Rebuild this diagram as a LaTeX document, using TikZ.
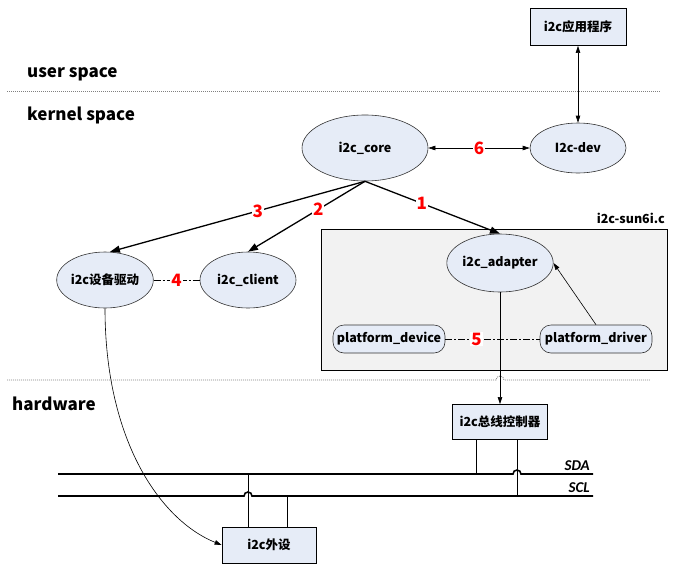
\documentclass[tikz,border=0pt]{standalone}
\usepackage{fontspec}
\setmainfont{Noto Sans CJK SC}
\newfontfamily\latinit{Carlito}
\usepackage{tikz}
\usetikzlibrary{shapes.geometric, arrows.meta}

\definecolor{nodefill}{RGB}{230,236,247}
\definecolor{boxfill}{RGB}{242,242,242}

\begin{document}
\begin{tikzpicture}[x=1pt, y=-1pt,
    every node/.style={font=\bfseries\fontsize{12.5}{14}\selectfont, inner sep=0pt},
    oval/.style={ellipse, draw=black!80, line width=0.6pt, fill=nodefill},
    block/.style={rectangle, draw=black, line width=0.8pt, fill=nodefill},
    pill/.style={rectangle, rounded corners=11pt, draw=black!80, line width=0.6pt, fill=nodefill,
        minimum width=112pt, minimum height=28pt},
    area/.style={font=\bfseries\fontsize{17}{20}\selectfont, anchor=base west},
    num/.style={font=\bfseries\fontsize{17}{20}\selectfont, text=red, fill=white, inner sep=1pt},
    wire/.style={anchor=base east, font=\latinit\bfseries\itshape\fontsize{15}{17}\selectfont},
    bigarrow/.style={line width=1.3pt, -{Triangle[length=10pt, width=7pt]}},
    thinarrow/.style={line width=0.6pt, -{Triangle[length=7pt, width=4.5pt]}},
    botharrow/.style={line width=0.6pt, {Triangle[length=7pt, width=4.5pt]}-{Triangle[length=7pt, width=4.5pt]}},
    dashdot/.style={line width=0.8pt, dash pattern=on 7pt off 2pt on 2pt off 2pt},
    sep/.style={gray, line width=0.8pt, dash pattern=on 1pt off 1pt},
    bus/.style={line width=1.6pt}]
    \useasboundingbox (0,0) rectangle (677,571);

    % spaces
    \node[area] (user) at (27,77) {user space};
    \node[area] (kernel) at (27,120) {kernel space};
    \node[area] (hw) at (12,410) {hardware};
    \draw[sep] (7,91) -- (660,91);
    \draw[sep] (7,380) -- (496,380) arc (180:360:4) -- (650,380);

    % i2c-sun6i.c
    \draw[fill=boxfill, line width=0.8pt] (321,229) rectangle (667,370);
    \node[anchor=south east] (sun6i) at (665,224) {i2c-sun6i.c};

    \node[block, minimum width=96pt, minimum height=37pt] (app) at (578,27) {i2c应用程序};
    \node[oval, minimum width=96pt, minimum height=50pt] (dev) at (578,148) {I2c-dev};
    \node[oval, minimum width=126pt, minimum height=66pt] (core) at (365,148) {i2c\_core};
    \node[oval, minimum width=94pt, minimum height=56pt] (drv) at (105,280) {i2c设备驱动};
    \node[oval, minimum width=96pt, minimum height=56pt] (client) at (248,280) {i2c\_client};
    \node[oval, minimum width=96pt, minimum height=58pt] (adapter) at (500,263) {i2c\_adapter};
    \node[pill] (pdev) at (389,339) {platform\_device};
    \node[pill] (pdrv) at (596,339) {platform\_driver};
    \node[block, minimum width=95pt, minimum height=35pt] (ctrl) at (500,422) {i2c总线控制器};
    \node[block, minimum width=94pt, minimum height=36pt] (periph) at (269,545) {i2c外设};

    \draw[botharrow] (app) -- (dev);
    \draw[botharrow] (core) -- node[num] {6} (dev);

    \draw[bigarrow] (core.south) -- node[num, pos=0.42] {3} (drv.80);
    \draw[bigarrow] (core.south) -- node[num, pos=0.4] {2} (client.north);
    \draw[bigarrow] (core.south) -- node[num, pos=0.42] {1} (adapter.north);

    \draw[dashdot] (drv) -- node[num] {4} (client);
    \draw[dashdot] (pdev) -- node[num, pos=0.33] {5} (pdrv);
    \draw[thinarrow] (pdrv.north) -- (adapter.east);
    \draw[thinarrow] (adapter.south) -- (ctrl.north);
    \draw[thinarrow] (drv.south) .. controls (105,440) and (160,520) .. (periph.west);

    % bus
    \draw[bus] (58,474) -- (513,474) arc (180:360:4) -- (593,474);
    \draw[bus] (58,496) -- (244,496) arc (180:360:4) -- (593,496);
    \node[wire] (sda) at (590,470) {SDA};
    \node[wire] (scl) at (590,492) {SCL};
    \draw[line width=0.8pt] ([xshift=-24pt]ctrl.south) -- ++(0,34);
    \draw[line width=0.8pt] ([xshift=17pt]ctrl.south) -- ++(0,56);
    \draw[line width=0.8pt] ([xshift=-21pt]periph.north) -- ++(0,-53);
    \draw[line width=0.8pt] ([xshift=18pt]periph.north) -- ++(0,-31);
\end{tikzpicture}
\end{document}
